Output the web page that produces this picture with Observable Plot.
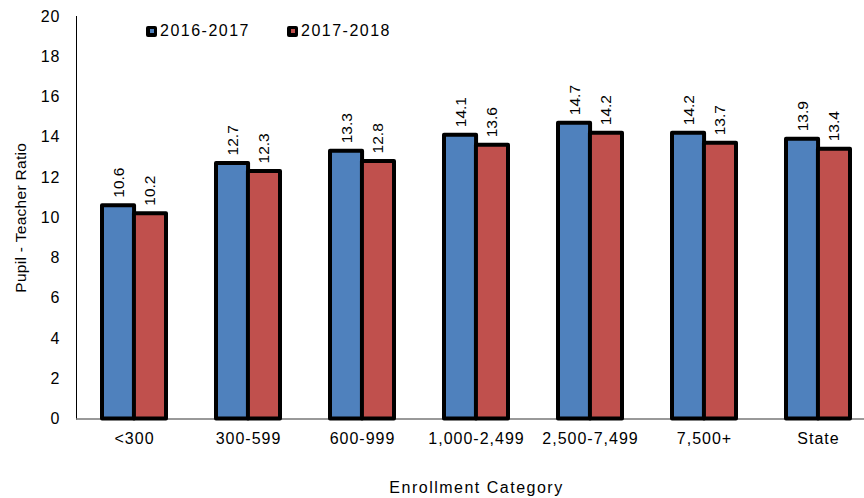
<!DOCTYPE html>
<html>
<head>
<meta charset="utf-8">
<script src="https://cdn.jsdelivr.net/npm/d3@7"></script>
<script src="https://cdn.jsdelivr.net/npm/@observablehq/plot@0.6"></script>
<style>
  html, body { margin: 0; padding: 0; background: #fff; }
  #wrap { position: relative; width: 864px; height: 498px; font-family: "Liberation Sans", Arial, sans-serif; }
  #legend { position: absolute; top: 22px; left: 146px; display: flex; font-size: 16px; letter-spacing: 1.5px; color: #000; }
  .item { display: flex; align-items: center; width: 141px; }
  .sw { width: 11px; height: 11px; background: #000; border-radius: 2px; display: flex; align-items: center; justify-content: center; margin-right: 3px; }
  .sw span { width: 4px; height: 4px; display: block; }
  svg [aria-label="y-axis tick label"] text,
  svg [aria-label="x-axis tick label"] text { font-size: 16px !important; letter-spacing: 1px; }
  svg [aria-label="x-axis label"] text { font-size: 16px !important; letter-spacing: 1.5px; }
  svg [aria-label="y-axis label"] text { font-size: 15.5px !important; letter-spacing: 0.3px; }
</style>
</head>
<body>
<div id="wrap"></div>
<script>
const categories = ["<300", "300-599", "600-999", "1,000-2,499", "2,500-7,499", "7,500+", "State"];
const seriesNames = ["2016-2017", "2017-2018"];
const values2016 = [10.6, 12.7, 13.3, 14.1, 14.7, 14.2, 13.9];
const values2017 = [10.2, 12.3, 12.8, 13.6, 14.2, 13.7, 13.4];
const yTicks = [0, 2, 4, 6, 8, 10, 12, 14, 16, 18, 20];
const colors = ["#4F81BD", "#C0504D"];

const rows2016 = categories.map((c, i) => ({category: c, series: seriesNames[0], value: values2016[i]}));
const rows2017 = categories.map((c, i) => ({category: c, series: seriesNames[1], value: values2017[i]}));

// layout constants
const W = 864, H = 498, ML = 76, MR = -12, MT = 16, MB = 79.5;
const padIn = 0.44, padOut = 0.228;
const step = (W - ML - MR) / (categories.length - padIn + 2 * padOut);
const half = step * (1 - padIn) / 2;

const barStyle = {stroke: "#000", strokeWidth: 4, strokeLinejoin: "round"};
const labelStyle = {rotate: -90, textAnchor: "start", lineAnchor: "middle", dy: -8, fontSize: 15.5, fill: "#000",
                    text: d => d.value.toFixed(1)};

const chart = Plot.plot({
  width: W,
  height: H,
  marginLeft: ML,
  marginRight: MR,
  marginTop: MT,
  marginBottom: MB,
  style: {fontFamily: "'Liberation Sans', Arial, sans-serif", fontSize: "16px", color: "#000", background: "#fff"},
  x: {domain: categories, paddingInner: padIn, paddingOuter: padOut, tickSize: 0, tickPadding: 14,
      label: "Enrollment Category", labelAnchor: "center", labelOffset: 74},
  y: {domain: [0, 20], ticks: yTicks, tickSize: 0, tickPadding: 16, line: true,
      label: "Pupil - Teacher Ratio", labelAnchor: "center", labelOffset: 62, labelArrow: false},
  marks: [
    Plot.ruleY([0], {stroke: "#777", strokeWidth: 1.5}),
    Plot.barY(rows2016, {x: "category", y: "value", fill: colors[0], insetRight: half, ...barStyle}),
    Plot.barY(rows2017, {x: "category", y: "value", fill: colors[1], insetLeft: half, ...barStyle}),
    Plot.text(rows2016, {x: "category", y: "value", dx: -half / 2, ...labelStyle}),
    Plot.text(rows2017, {x: "category", y: "value", dx: half / 2, ...labelStyle})
  ]
});

const wrap = document.getElementById("wrap");
wrap.appendChild(chart);

const legend = document.createElement("div");
legend.id = "legend";
seriesNames.forEach((s, i) => {
  const item = document.createElement("div");
  item.className = "item";
  const sw = document.createElement("div");
  sw.className = "sw";
  const inner = document.createElement("span");
  inner.style.background = colors[i];
  sw.appendChild(inner);
  item.appendChild(sw);
  const t = document.createElement("span");
  t.textContent = s;
  item.appendChild(t);
  legend.appendChild(item);
});
wrap.appendChild(legend);
</script>
</body>
</html>
